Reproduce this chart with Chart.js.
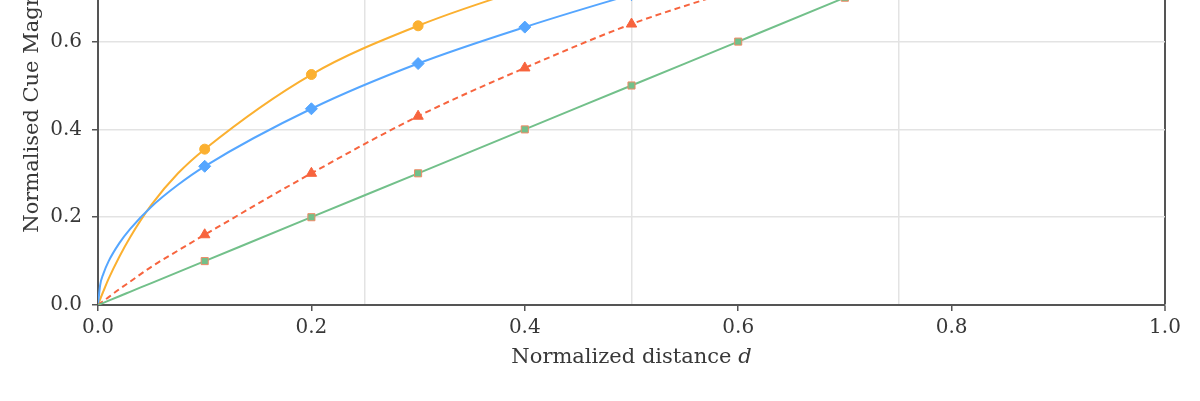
<!DOCTYPE html>
<html>
<head>
<meta charset="utf-8">
<script src="https://cdn.jsdelivr.net/npm/chart.js@4.4.1/dist/chart.umd.min.js"></script>
<style>
  html, body { margin: 0; padding: 0; background: #fff; overflow: hidden; }
  /* the figure is taller than the window; its top is cut off */
  #wrap { position: absolute; left: 0; top: -200px; width: 1200px; height: 601px; }
</style>
</head>
<body>
<div id="wrap"><canvas id="chart"></canvas></div>
<script>
// normalised distance d (extra samples near 0 so the curves bend like the original)
const distance = [0, 0.002, 0.005, 0.01, 0.02, 0.03, 0.05, 0.075, 0.1, 0.2, 0.3, 0.4, 0.5, 0.6, 0.7, 0.8, 0.9, 1.0];

// cue magnitude
const cueOrange = [0, 0.013, 0.031, 0.06, 0.11, 0.154, 0.228, 0.30, 0.355, 0.525, 0.636, 0.72, 0.79, 0.85, 0.90, 0.94, 0.97, 1.0];
const cueBlue   = [0, 0.045, 0.071, 0.10, 0.141, 0.173, 0.224, 0.274, 0.316, 0.447, 0.550, 0.633, 0.707, 0.775, 0.837, 0.894, 0.949, 1.0];
const cueRed    = [0, 0.004, 0.009, 0.018, 0.036, 0.053, 0.087, 0.124, 0.16, 0.30, 0.43, 0.54, 0.64, 0.72, 0.80, 0.87, 0.94, 1.0];
const cueGreen  = [0, 0.002, 0.005, 0.01, 0.02, 0.03, 0.05, 0.075, 0.1, 0.2, 0.3, 0.4, 0.5, 0.6, 0.7, 0.8, 0.9, 1.0];

const xTicks = [0, 0.2, 0.4, 0.6, 0.8, 1.0];
const xGrid = [0.25, 0.5, 0.75];
const yTicks = [0, 0.2, 0.4, 0.6, 0.8, 1.0];

const FONT = "'DejaVu Serif', serif";
const TEXT = "#383838";
const SPINE = "#555";
const GRID = "#e3e3e3";

const pct = (v) => Math.round(v * 100);
const onMarker = (i) => distance[i] > 0 && Math.round(distance[i] * 1000) % 100 === 0;
const pts = (ys) => distance.map((d, i) => ({ x: d, y: ys[i] }));

function series(ys, color, shape, radius, extra) {
  return Object.assign({
    data: pts(ys),
    borderColor: color,
    backgroundColor: color,
    borderWidth: 2,
    cubicInterpolationMode: "monotone",
    pointStyle: shape,
    pointRadius: (ctx) => (onMarker(ctx.dataIndex) ? radius : 0),
    pointHoverRadius: 0,
    pointBorderWidth: 1,
  }, extra || {});
}

new Chart(document.getElementById("chart"), {
  type: "line",
  data: {
    datasets: [
      series(cueGreen, "#72c08a", "rect", 5, { pointBorderColor: "#f08a66" }),
      series(cueRed, "#f7643e", "triangle", 6, { borderDash: [6, 4] }),
      series(cueBlue, "#55a6ff", "rectRot", 6),
      series(cueOrange, "#fbb030", "circle", 5),
    ],
  },
  options: {
    responsive: true,
    maintainAspectRatio: false,
    animation: false,
    events: [],
    layout: { padding: { left: 0, right: 35, top: 66, bottom: 31 } },
    plugins: { legend: { display: false }, tooltip: { enabled: false } },
    scales: {
      x: {
        type: "linear",
        min: 0,
        max: 1,
        afterFit: (s) => { s.height = 65; },
        afterBuildTicks: (s) => {
          // every 0.05 so both the 0.2 labels and the 0.25 grid lines get a tick
          const t = [];
          for (let k = 0; k <= 100; k += 5) t.push({ value: k / 100 });
          s.ticks = t;
        },
        ticks: {
          autoSkip: false,
          maxRotation: 0,
          padding: 5,
          color: TEXT,
          font: { family: FONT, size: 20 },
          callback: (v) => (xTicks.some((t) => pct(t) === pct(v)) ? v.toFixed(1) : ""),
        },
        grid: {
          color: (ctx) => {
            const k = pct(ctx.tick.value);
            if (k === 100) return SPINE;
            return xGrid.some((g) => pct(g) === k) ? GRID : "rgba(0,0,0,0)";
          },
          lineWidth: (ctx) => (pct(ctx.tick.value) === 100 ? 2 : 1.5),
          tickColor: (ctx) => (xTicks.some((t) => pct(t) === pct(ctx.tick.value)) ? SPINE : "rgba(0,0,0,0)"),
          tickLength: 6,
          tickWidth: 1.5,
        },
        border: { color: SPINE, width: 2 },
        title: {
          display: true,
          text: "Normalized distance \u{1D451}",
          color: TEXT,
          font: { family: FONT, size: 21 },
          padding: { top: 0, bottom: 0 },
        },
      },
      y: {
        min: 0,
        max: 1,
        afterFit: (s) => { s.width = 98; },
        afterBuildTicks: (s) => { s.ticks = yTicks.map((v) => ({ value: v })); },
        ticks: {
          padding: 10,
          color: TEXT,
          font: { family: FONT, size: 20 },
          callback: (v) => v.toFixed(1),
        },
        grid: {
          color: (ctx) => (ctx.tick.value === 0 ? "rgba(0,0,0,0)" : GRID),
          lineWidth: 1.5,
          tickColor: SPINE,
          tickLength: 6,
          tickWidth: 1.5,
        },
        border: { color: SPINE, width: 2 },
        title: {
          display: true,
          text: "Normalised Cue Magnitude",
          color: TEXT,
          font: { family: FONT, size: 21 },
          padding: { top: 20, bottom: 0 },
        },
      },
    },
  },
});
</script>
</body>
</html>
